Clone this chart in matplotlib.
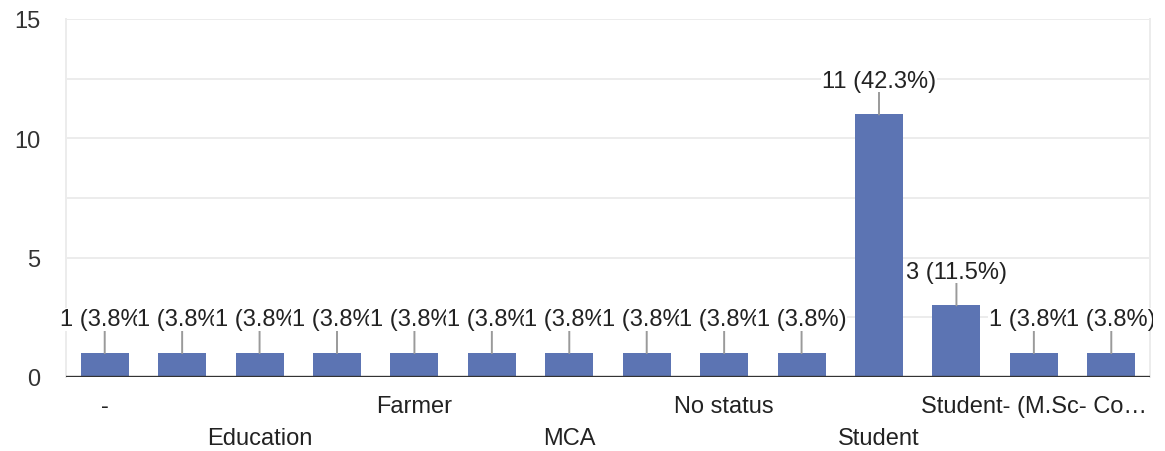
import matplotlib
matplotlib.use("Agg")
import matplotlib.pyplot as plt
from matplotlib.transforms import Bbox, TransformedBbox

# ---- data ----
categories = ["-", "", "Education", "", "Farmer", "", "MCA", "",
              "No status", "", "Student", "", "Student- (M.Sc- Co\u2026", ""]
values = [1, 1, 1, 1, 1, 1, 1, 1, 1, 1, 11, 3, 1, 1]
total = 26
y_ticks = [0, 5, 10, 15]
y_grid = [0, 2.5, 5, 7.5, 10, 12.5, 15]

plt.rcParams['font.family'] = ['Liberation Sans', 'DejaVu Sans']

W, H = 1165, 452
fig = plt.figure(figsize=(W / 100, H / 100), dpi=100)
ax = fig.add_axes([66 / W, (H - 378) / H, (1150 - 66) / W, (378 - 20) / H])

x = list(range(len(values)))
ax.bar(x, values, width=0.62, color='#5c74b3', zorder=2)

ax.set_xlim(-0.5, len(values) - 0.5)
ax.set_ylim(0, 15)

# grid
for g in y_grid:
    if g == 0:
        continue
    ax.axhline(g, color='#ececec', lw=1.4, zorder=0)
ax.axhline(0, color='#333333', lw=2.4, zorder=3)

for s in ['top', 'bottom']:
    ax.spines[s].set_visible(False)
for s in ['left', 'right']:
    ax.spines[s].set_color('#ececec')
    ax.spines[s].set_linewidth(1.4)

ax.set_yticks(y_ticks)
ax.set_yticklabels([str(t) for t in y_ticks], fontsize=17, color='#333333')
ax.tick_params(axis='y', length=0, pad=18.5)
ax.set_xticks([])

clipbox = TransformedBbox(Bbox([[0, 0], [1153 / W, 1]]), fig.transFigure)

# value labels
for i, v in enumerate(values):
    pct = 100.0 * v / total
    t = ax.annotate(f"{v} ({pct:.1f}%)", xy=(i, v), xytext=(0, 24.4),
                    textcoords='offset points', ha='center', va='center',
                    fontsize=17, color='#222222', zorder=5,
                    bbox=dict(boxstyle='square,pad=0.03', fc='white', ec='none'),
                    arrowprops=dict(arrowstyle='-', color='#9a9a9a', lw=1.4,
                                    shrinkA=0, shrinkB=0))
    t.set_clip_box(clipbox)
    t.set_clip_on(True)

# category labels, staggered in two rows
for i, c in enumerate(categories):
    if not c:
        continue
    off = 20.9 if (i // 2) % 2 == 0 else 43.9
    ax.annotate(c, xy=(i, 0), xycoords=('data', 'axes fraction'),
                xytext=(0, -off), textcoords='offset points',
                ha='center', va='center', fontsize=17, color='#222222')

fig.savefig("out.png", dpi=100)
